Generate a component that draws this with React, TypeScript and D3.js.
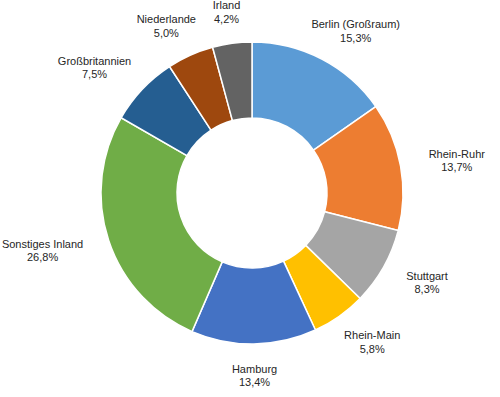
import { useEffect, useRef } from "react"
import * as d3 from "d3"

// regions and their share in percent
const regions = [
  "Berlin (Großraum)",
  "Rhein-Ruhr",
  "Stuttgart",
  "Rhein-Main",
  "Hamburg",
  "Sonstiges Inland",
  "Großbritannien",
  "Niederlande",
  "Irland",
]
const shares = [15.3, 13.7, 8.3, 5.8, 13.4, 26.8, 7.5, 5.0, 4.2]
const colors = ["#5B9BD5", "#ED7D31", "#A5A5A5", "#FFC000", "#4472C4", "#70AD47", "#255E91", "#9E480E", "#636363"]

const W = 500
const H = 397

export default function App() {
  const svgRef = useRef<SVGSVGElement | null>(null)

  useEffect(() => {
    if (!svgRef.current) return
    const svg = d3.select(svgRef.current)
    svg.selectAll("*").remove()

    const cx = 252
    const cy = 193
    const outer = 151
    const inner = 75

    const data = regions.map((name, i) => ({ name, value: shares[i], color: colors[i] }))
    type Row = (typeof data)[number]

    const pie = d3
      .pie<Row>()
      .value((d) => d.value)
      .sort(null)
    const arc = d3.arc<d3.PieArcDatum<Row>>().innerRadius(inner).outerRadius(outer)

    const g = svg.append("g").attr("transform", `translate(${cx},${cy})`)
    const arcs = pie(data)

    g.selectAll("path")
      .data(arcs)
      .enter()
      .append("path")
      .attr("d", arc)
      .attr("fill", (d) => d.data.color)
      .attr("stroke", "#fff")
      .attr("stroke-width", 1.5)

    // labels outside, pushed away from the ring by their own size
    const fmt = (v: number) => v.toFixed(1).replace(".", ",") + "%"
    const labelRx = 180
    const labelRy = 170
    arcs.forEach((a) => {
      const mid = (a.startAngle + a.endAngle) / 2
      const s = Math.sin(mid)
      const c = -Math.cos(mid)
      const lbl = g
        .append("text")
        .attr("text-anchor", "middle")
        .attr("font-family", "'Liberation Sans', Arial, sans-serif")
        .attr("font-size", 11)
        .attr("fill", "#262626")
      lbl.append("tspan").attr("x", 0).attr("y", 0).text(a.data.name)
      lbl.append("tspan").attr("x", 0).attr("y", 13.5).text(fmt(a.data.value))
      const box = (lbl.node() as SVGTextElement).getBBox()
      const px = labelRx * s + (s * box.width) / 2
      const py = labelRy * c + (c * box.height) / 2
      const dx = px - (box.x + box.width / 2)
      const dy = py - (box.y + box.height / 2)
      lbl.attr("transform", `translate(${dx},${dy})`)
    })
  }, [])

  return (
    <div style={{ position: "absolute", left: 0, top: 0, width: W, height: H, background: "#fff" }}>
      <svg ref={svgRef} width={W} height={H}></svg>
    </div>
  )
}
